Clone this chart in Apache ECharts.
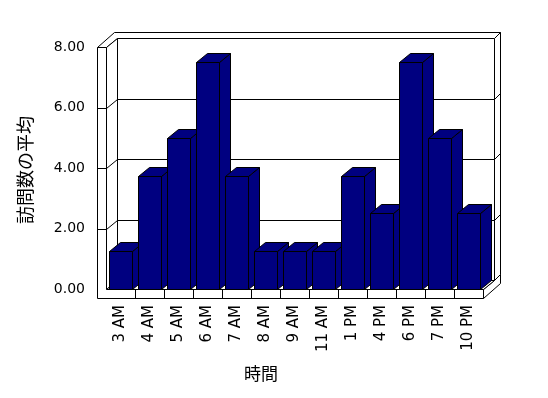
<!DOCTYPE html>
<html>
<head>
<meta charset="utf-8">
<script src="https://cdn.jsdelivr.net/npm/echarts@6/dist/echarts.min.js"></script>
<style>
html,body{margin:0;padding:0;background:#ffffff;}
#chart{width:548px;height:398px;}
</style>
</head>
<body>
<div id="chart"></div>
<script>
// ---- data ----
const categories = ['3 AM','4 AM','5 AM','6 AM','7 AM','8 AM','9 AM','11 AM','1 PM','4 PM','6 PM','7 PM','10 PM'];
const visitsAvg = [1.25, 3.75, 5.0, 7.5, 3.75, 1.25, 1.25, 1.25, 3.75, 2.5, 7.5, 5.0, 2.5];
const yTickValues = [0, 2, 4, 6, 8];
const xTitle = '時間';
const yTitle = '訪問数の平均';

// ---- style constants ----
const BAR_COLOR = '#000080';
const LINE = '#000000';
const DX = 11, DY = -9;       // depth offset of back-wall front plane
const TX = 17, TY = -15;      // depth offset of back-wall back plane
const WALL = 9;               // left wall thickness
const FLOOR = 9;              // floor thickness
const BAR_RATIO = 23 / 29;
const LABEL_FONT = '"DejaVu Sans", "Liberation Sans", sans-serif';
const CJK_FONT = '"Noto Sans CJK JP", sans-serif';

const c = v => Math.round(v) + 0.5;
const P = pts => pts.map(p => [c(p[0]), c(p[1])]);

function poly(points, fill) {
  return { type: 'polygon', shape: { points: P(points) },
    style: { fill: fill, stroke: LINE, lineWidth: 1 } };
}
function line(x1, y1, x2, y2) {
  return { type: 'line', shape: { x1: c(x1), y1: c(y1), x2: c(x2), y2: c(y2) },
    style: { stroke: LINE, lineWidth: 1, fill: null } };
}

function renderFrame(params, api) {
  const cs = params.coordSys;
  const xL = cs.x, xR = cs.x + cs.width;
  const yT = api.coord([0, yTickValues[yTickValues.length - 1]])[1];
  const yB = api.coord([0, yTickValues[0]])[1];
  const band = api.size([1, 0])[0];
  const ch = [];
  ch.push(poly([[xL + DX, yT + DY], [xR + DX, yT + DY], [xR + DX, yB + DY], [xL + DX, yB + DY]], '#fff'));
  ch.push(poly([[xL - WALL, yT], [xL, yT], [xL + DX, yT + DY], [xR + DX, yT + DY], [xR + TX, yT + TY], [xL - WALL + TX, yT + TY]], '#fff'));
  ch.push(poly([[xR + DX, yT + DY], [xR + TX, yT + TY], [xR + TX, yB + TY], [xR + DX, yB + DY]], '#fff'));
  ch.push(poly([[xR, yB], [xR + DX, yB + DY], [xR + TX, yB + TY], [xR + TX, yB + FLOOR + TY], [xR, yB + FLOOR]], '#fff'));
  ch.push(poly([[xL, yT], [xL + DX, yT + DY], [xL + DX, yB + DY], [xL, yB]], '#fff'));
  ch.push(poly([[xL, yB], [xR, yB], [xR + DX, yB + DY], [xL + DX, yB + DY]], '#fff'));
  ch.push(poly([[xL - WALL, yT], [xL, yT], [xL, yB], [xR, yB], [xR, yB + FLOOR], [xL - WALL, yB + FLOOR]], '#fff'));
  yTickValues.forEach(v => {
    if (v === yTickValues[0] || v === yTickValues[yTickValues.length - 1]) return;
    const y = api.coord([0, v])[1];
    ch.push(line(xL + DX, y + DY, xR + DX, y + DY));
    ch.push(line(xL, y, xL + DX, y + DY));
    ch.push(line(xL - WALL, y, xL, y));
    ch.push(line(xR + DX, y + DY, xR + TX, y + TY));
  });
  for (let i = 1; i < categories.length; i++) {
    const x = api.coord([i, 0])[0] - band / 2;
    ch.push(line(x, yB, x, yB + FLOOR));
  }
  return { type: 'group', children: ch };
}

function renderBar(params, api) {
  const idx = api.value(0), v = api.value(1);
  const base = api.coord([idx, 0]);
  const top = api.coord([idx, v]);
  const band = api.size([1, 0])[0];
  const w = band * BAR_RATIO;
  const l = base[0] - w / 2, r = base[0] + w / 2;
  const yt = top[1], yb = base[1];
  return { type: 'group', children: [
    poly([[r, yt], [r + DX, yt + DY], [r + DX, yb + DY], [r, yb]], BAR_COLOR),
    poly([[l, yt], [r, yt], [r + DX, yt + DY], [l + DX, yt + DY]], BAR_COLOR),
    poly([[l, yt], [r, yt], [r, yb], [l, yb]], BAR_COLOR)
  ]};
}

const chart = echarts.init(document.getElementById('chart'), null, { renderer: 'canvas' });
chart.setOption({
  animation: false,
  backgroundColor: '#ffffff',
  grid: { left: 106, right: 65, top: 47, bottom: 109 },
  xAxis: {
    type: 'category', data: categories,
    axisLine: { show: false }, axisTick: { show: false }, splitLine: { show: false },
    axisLabel: { rotate: 90, margin: 16, fontSize: 15, color: '#000', fontFamily: LABEL_FONT, interval: 0 }
  },
  yAxis: {
    type: 'value', min: 0, max: 8, interval: 2,
    axisLine: { show: false }, axisTick: { show: false }, splitLine: { show: false },
    axisLabel: { margin: 21, fontSize: 14, color: '#000', fontFamily: LABEL_FONT,
      formatter: v => v.toFixed(2) }
  },
  series: [
    { type: 'custom', z: 1, renderItem: renderFrame, data: [[0, 0]], silent: true, clip: false },
    { type: 'custom', z: 2, renderItem: renderBar, clip: false,
      data: visitsAvg.map((v, i) => [i, v]), encode: { x: 0, y: 1 } }
  ],
  graphic: [
    { type: 'text', x: 261, y: 374, style: { text: xTitle, font: '17px ' + CJK_FONT, fill: '#000', align: 'center', verticalAlign: 'middle' } },
    { type: 'text', x: 25, y: 170, rotation: Math.PI / 2, style: { text: yTitle, font: '18px ' + CJK_FONT, fill: '#000', align: 'center', verticalAlign: 'middle' } }
  ]
});
</script>
</body>
</html>
